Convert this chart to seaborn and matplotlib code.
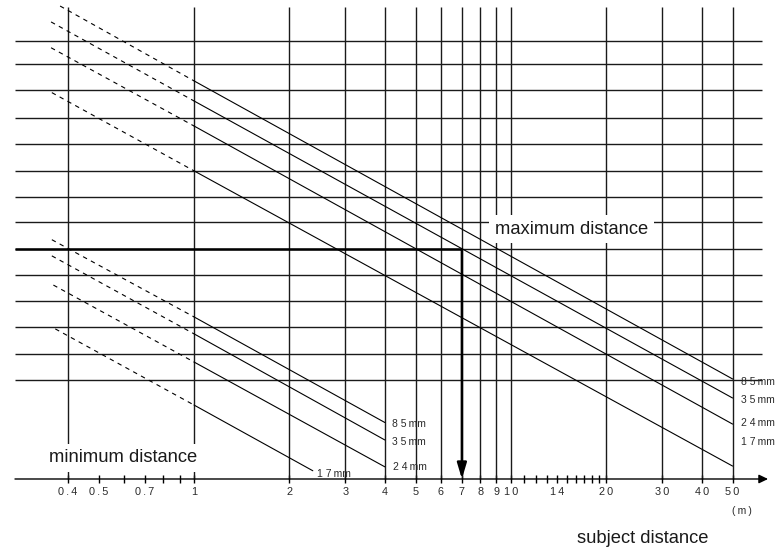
import numpy as np
import pandas as pd
import matplotlib
matplotlib.use("Agg")
import matplotlib.pyplot as plt
import seaborn as sns
from matplotlib.ticker import FixedLocator, FixedFormatter, NullFormatter

# ---------------- data ----------------
focal_lengths = ["85mm", "35mm", "24mm", "17mm"]

# maximum-distance lines (dashed part starts left of 1 m, solid 1 m -> 50 m)
max_dash_start_x = [0.378, 0.354, 0.354, 0.356]
max_dash_start_y = [15.34, 14.73, 13.74, 12.02]
max_y_at_1m = [12.47, 11.70, 10.74, 9.02]
max_y_at_50m = [1.04, 0.31, -0.69, -2.30]

# minimum-distance lines (dashed part left of 1 m, solid 1 m -> end)
min_dash_start_x = [0.356, 0.356, 0.360, 0.365]
min_dash_start_y = [6.38, 5.76, 4.64, 2.96]
min_y_at_1m = [3.42, 2.77, 1.69, 0.04]
min_end_x = [4.0, 4.0, 4.0, 2.37]
min_end_y = [-0.63, -1.30, -2.33, -2.48]

# grid
hline_levels = [14.0, 13.12, 12.12, 11.05, 10.05, 9.01, 8.02, 7.06, 6.02,
                5.03, 4.03, 3.03, 2.0, 1.0]
vline_positions = [0.4, 1, 2, 3, 4, 5, 6, 7, 8, 9, 10, 20, 30, 40, 50]

# x axis ticks
tick_values = [0.4, 0.5, 0.7, 1, 2, 3, 4, 5, 6, 7, 8, 9, 10, 14, 20, 30, 40, 50]
tick_labels = ["0.4", "0.5", "0.7", "1", "2", "3", "4", "5", "6", "7", "8",
               "9", "10", "14", "20", "30", "40", "50"]
minor_tick_values = [0.6, 0.8, 0.9, 11, 12, 13, 15, 16, 17, 18, 19]

# worked example: 35 mm -> maximum distance 7 m
example_level = 6.02
example_distance = 7

# ---------------- layout constants ----------------
X_LIM = (0.2443, 68.55)
Y_LIM = (-5.557, 15.571)
AXIS_LEVEL = -2.796
VLINE_TOP = 15.302
LINE_LEFT = 0.2724
HLINE_RIGHT = 61.9
ARROW_RIGHT = 64.7

max_label_pos = [(53.2, 0.92), (53.2, 0.23), (53.2, -0.65), (53.2, -1.38)]
min_label_pos = [(4.21, -0.69), (4.21, -1.38), (4.25, -2.34), (2.44, -2.60)]

sns.set_theme(style="white")
plt.rcParams["font.family"] = ["Liberation Sans", "DejaVu Sans"]

fig = plt.figure(figsize=(7.76, 5.51), dpi=100, facecolor="white")
ax = fig.add_axes([0, 0, 1, 1])
ax.set_facecolor("white")
ax.set_xscale("log")
ax.set_xlim(*X_LIM)
ax.set_ylim(*Y_LIM)

grid_color = "#1a1a1a"
ax.hlines(hline_levels, LINE_LEFT, HLINE_RIGHT, color=grid_color, lw=1.0, zorder=1)
ax.vlines(vline_positions, AXIS_LEVEL, VLINE_TOP, color=grid_color, lw=1.0, zorder=1)

# diagonal lines via seaborn
rows = []
for i, f in enumerate(focal_lengths):
    u = "max_" + f
    rows += [dict(x=max_dash_start_x[i], y=max_dash_start_y[i], unit=u + "_d", seg="dashed"),
             dict(x=1.0, y=max_y_at_1m[i], unit=u + "_d", seg="dashed"),
             dict(x=1.0, y=max_y_at_1m[i], unit=u + "_s", seg="solid"),
             dict(x=50.0, y=max_y_at_50m[i], unit=u + "_s", seg="solid")]
    u = "min_" + f
    rows += [dict(x=min_dash_start_x[i], y=min_dash_start_y[i], unit=u + "_d", seg="dashed"),
             dict(x=1.0, y=min_y_at_1m[i], unit=u + "_d", seg="dashed"),
             dict(x=1.0, y=min_y_at_1m[i], unit=u + "_s", seg="solid"),
             dict(x=min_end_x[i], y=min_end_y[i], unit=u + "_s", seg="solid")]
df = pd.DataFrame(rows)
sns.lineplot(data=df, x="x", y="y", units="unit", estimator=None, style="seg",
             style_order=["solid", "dashed"],
             dashes={"solid": "", "dashed": (4, 4)}, color="black", lw=0.8,
             legend=False, sort=False, ax=ax, zorder=2)

# worked example (bold line + arrow)
ax.plot([LINE_LEFT, example_distance], [example_level, example_level],
        color="black", lw=1.8, solid_capstyle="butt", zorder=3)
ax.annotate("", xy=(example_distance, AXIS_LEVEL), xytext=(example_distance, example_level),
            arrowprops=dict(arrowstyle="-|>,head_length=0.47,head_width=0.14",
                            lw=1.8, color="black", shrinkA=0, shrinkB=0,
                            mutation_scale=20), zorder=3)

# x axis line with arrow
ax.annotate("", xy=(ARROW_RIGHT, AXIS_LEVEL), xytext=(LINE_LEFT, AXIS_LEVEL),
            arrowprops=dict(arrowstyle="-|>,head_length=0.27,head_width=0.13",
                            lw=1.0, color="black", shrinkA=0, shrinkB=0,
                            mutation_scale=20), zorder=3)

for s in ["top", "right", "left"]:
    ax.spines[s].set_visible(False)
ax.spines["bottom"].set_position(("data", AXIS_LEVEL))
ax.spines["bottom"].set_visible(False)

spaced = ["\u2009".join(t) for t in tick_labels]
ax.xaxis.set_major_locator(FixedLocator(tick_values))
ax.xaxis.set_major_formatter(FixedFormatter(spaced))
ax.xaxis.set_minor_locator(FixedLocator(minor_tick_values))
ax.xaxis.set_minor_formatter(NullFormatter())
ax.tick_params(axis="x", which="both", direction="inout", length=5.8, width=1.0,
               color="black", pad=2.6, labelsize=7.8, labelcolor="#2a2a2a",
               bottom=True)
ax.set_yticks([])
ax.set_xlabel("")
ax.set_ylabel("")

# focal length labels
def flabel(f):
    return f[0] + " " + f[1] + "\u2009mm"

for f, (x, y) in zip(focal_lengths, max_label_pos):
    ax.text(x, y, flabel(f), ha="left", va="center", fontsize=7.5, color="#2a2a2a", zorder=4)
for f, (x, y) in zip(focal_lengths, min_label_pos):
    ax.text(x, y, flabel(f), ha="left", va="center", fontsize=7.5, color="#2a2a2a", zorder=4)

box = dict(boxstyle="square,pad=0.3", facecolor="white", edgecolor="none")
ax.text(8.90, 6.60, "maximum distance", ha="left", va="baseline", fontsize=13.2,
        color="#1a1a1a", bbox=box, zorder=5)
ax.text(0.3487, -2.156, "minimum distance", ha="left", va="baseline", fontsize=13.2,
        color="#1a1a1a", bbox=box, zorder=5)
ax.text(16.15, -5.25, "subject distance", ha="left", va="baseline", fontsize=13.2,
        color="#1a1a1a", zorder=5)
ax.text(53.56, -4.02, "(\u2009m\u2009)", ha="center", va="center", fontsize=7.5,
        color="#2a2a2a", zorder=5)

fig.savefig("out.png", dpi=100, facecolor="white")
